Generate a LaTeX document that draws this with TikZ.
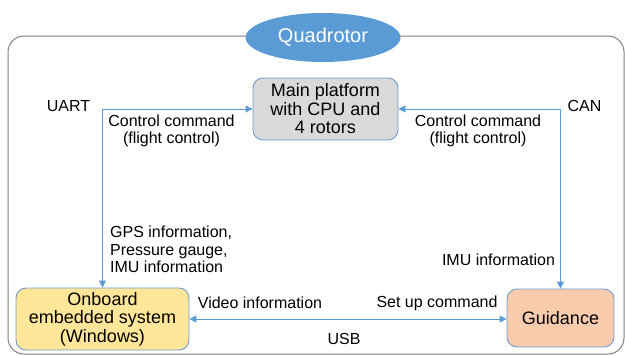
\documentclass[tikz,border=0pt]{standalone}
\usepackage{fontspec}
\setmainfont{Liberation Sans}
\usetikzlibrary{arrows.meta,positioning,shapes.geometric}
\definecolor{qblue}{HTML}{5B9BD5}
\definecolor{boxedge}{HTML}{6F9DD0}
\definecolor{platgray}{HTML}{D9D9D9}
\definecolor{onbyellow}{HTML}{FFE699}
\definecolor{guidsalmon}{HTML}{F8CBAD}
\definecolor{framegray}{HTML}{7F7F7F}

\begin{document}
\begin{tikzpicture}[
  x=1pt, y=-1pt,
  box/.style={rounded corners=10pt, draw=boxedge, line width=0.9pt, minimum height=62pt,
    align=center, font=\fontsize{18}{18.5}\selectfont, inner sep=0pt},
  link/.style={{Triangle[length=7pt,width=7pt]}-{Triangle[length=7pt,width=7pt]}, line width=0.9pt, qblue},
  lbl/.style={font=\fontsize{16}{17.5}\selectfont, inner sep=0pt, align=center},
]
  \useasboundingbox (0,0) rectangle (625,356);

  % Outer frame with title
  \draw[framegray, line width=1pt, rounded corners=16pt] (8,36) rectangle (624,354);
  \node[ellipse, fill=qblue, minimum width=155pt, minimum height=49pt, inner sep=0pt,
    text=white, font=\fontsize{20}{20}\selectfont] (title) at (323,37.5) {Quadrotor};

  % Components
  \node[box, fill=platgray, minimum width=145pt] (main) at (325.5,109) {Main platform\\with CPU and\\4 rotors};
  \node[box, fill=onbyellow, minimum width=173pt] (onboard) at (102.5,319) {Onboard\\embedded system\\(Windows)};
  \node[box, fill=guidsalmon, minimum width=107pt, minimum height=58pt] (guid) at (560.5,318) {Guidance};

  % Links
  \draw[link] (onboard.north) |- (main.west);
  \draw[link] (guid.north) |- (main.east);
  \draw[link] (onboard.east) -- (onboard.east -| guid.west);

  % Labels
  \node[lbl] (uart) at (68.5,106) {UART};
  \node[lbl] (can) at (584.5,106) {CAN};
  \node[lbl] (ccleft) at (171.5,131) {Control command\\(flight control)};
  \node[lbl] (ccright) at (478,131) {Control command\\(flight control)};
  \node[lbl, anchor=west, align=left] (gps) at (110,249.5) {GPS information,\\Pressure gauge,\\IMU information};
  \node[lbl] (imu) at (498.5,260) {IMU information};
  \node[lbl] (video) at (260,303) {Video information};
  \node[lbl] (setup) at (437,303) {Set up command};
  \node[lbl] (usb) at (344,339) {USB};
\end{tikzpicture}
\end{document}
